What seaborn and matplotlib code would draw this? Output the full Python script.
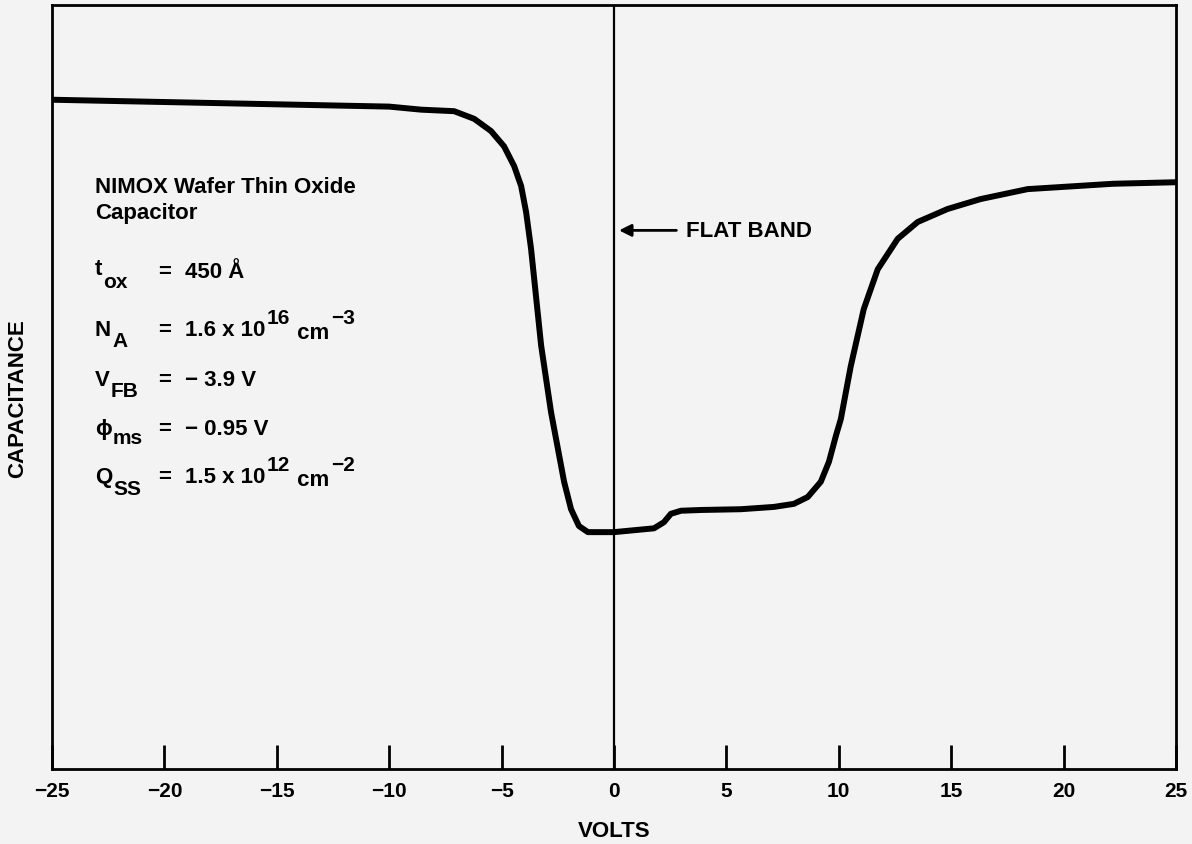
import matplotlib
matplotlib.use("Agg")
import matplotlib.pyplot as plt
import seaborn as sns
import pandas as pd

# Adatok (leolvasva az ábráról)
volts = [-25, -20, -15, -10, -8.58, -7.11, -6.22, -5.47, -4.89, -4.44, -4.13,
         -3.91, -3.69, -3.24, -2.8, -2.22, -1.91, -1.56, -1.16, 0, 1.78,
         2.22, 2.53, 2.98, 3.87, 5.64, 7.11, 8.0, 8.62, 9.2, 9.56, 9.87,
         10.09, 10.53, 11.11, 11.73, 12.62, 13.51, 14.84, 16.31, 18.4, 22.2,
         25]
capacitance = [0.876, 0.873, 0.870, 0.867, 0.863, 0.861, 0.851, 0.835, 0.815,
               0.789, 0.763, 0.729, 0.681, 0.554, 0.467, 0.376, 0.340, 0.318,
               0.310, 0.310, 0.315, 0.323, 0.334, 0.338, 0.339, 0.340, 0.343,
               0.347, 0.356, 0.376, 0.402, 0.436, 0.458, 0.527, 0.602, 0.654,
               0.694, 0.716, 0.733, 0.746, 0.759, 0.766, 0.768]
xticks = [-25, -20, -15, -10, -5, 0, 5, 10, 15, 20, 25]
xticklabels = ["\u221225", "\u221220", "\u221215", "\u221210", "\u22125",
               "0", "5", "10", "15", "20", "25"]
# (szöveg, betűméret, függőleges eltolás pontban)
param_labels = [
    [("t", 16, 2), ("ox", 15, -7)],
    [("N", 16, 0), ("A", 15, -8)],
    [("V", 16, 0), ("FB", 15, -8)],
    [("\u03d5", 16, 0), ("ms", 15, -7)],
    [("Q", 16, 0), ("SS", 15, -8)],
]
param_values = [
    [("450 Å", 16, 0)],
    [("1.6 x 10", 16, 0), ("16", 15, 9), (" cm", 16, -2), ("\u22123", 15, 9)],
    [("\u2212 3.9 V", 16, 0)],
    [("\u2212 0.95 V", 16, 0)],
    [("1.5 x 10", 16, 0), ("12", 15, 9), (" cm", 16, -2), ("\u22122", 15, 9)],
]

sns.set_style("white")
bg = "#f3f3f3"
plt.rcParams.update({
    "font.family": ["Liberation Sans", "DejaVu Sans"],
    "font.weight": "bold",
    "figure.facecolor": bg,
    "axes.facecolor": bg,
    "text.color": "black",
    "axes.labelcolor": "black",
    "xtick.color": "black",
})

df = pd.DataFrame({"Volts": volts, "Capacitance": capacitance})

fig = plt.figure(figsize=(11.92, 8.45), dpi=100)
ax = fig.add_axes([0.0436, 0.0888, 0.9430, 0.9041])

sns.lineplot(data=df, x="Volts", y="Capacitance", ax=ax, color="black",
             linewidth=4.3, sort=False, estimator=None)
for ln in ax.get_lines():
    ln.set_solid_joinstyle("round")
    ln.set_solid_capstyle("butt")

# Flat band vonal
ax.axvline(0, color="black", linewidth=1.6)
ax.annotate("", xy=(0.1, 0.705), xytext=(2.9, 0.705),
            arrowprops=dict(arrowstyle="-|>", color="black", lw=2,
                            mutation_scale=18))
ax.text(3.2, 0.705, "FLAT BAND", fontsize=16, fontweight="bold",
        va="center", ha="left")

ax.set_xlim(-25, 25)
ax.set_ylim(0, 1)
ax.set_xticks(xticks)
ax.set_xticklabels(xticklabels, fontsize=15, fontweight="bold")
ax.set_yticks([])
ax.tick_params(axis="x", bottom=True, direction="in", length=17, width=2,
               pad=9, colors="black")
for s in ax.spines.values():
    s.set_linewidth(2)
    s.set_color("black")

ax.set_xlabel("VOLTS", fontsize=16, fontweight="bold", labelpad=14)
ax.set_ylabel("CAPACITANCE", fontsize=16, fontweight="bold")
ax.yaxis.set_label_coords(-0.031, 0.486)
ax.yaxis.label.set_verticalalignment("center")


def rich_text(x, y, pieces):
    # darabok egymás után, alap vonalhoz igazítva
    txt, size, dy = pieces[0]
    prev = ax.annotate(txt, xy=(x, y), xytext=(0, dy), textcoords="offset points",
                       fontsize=size, fontweight="bold", va="baseline")
    for txt, size, dy in pieces[1:]:
        prev = ax.annotate(txt, xy=(1, y), xycoords=(prev, "data"),
                           xytext=(1, dy), textcoords="offset points",
                           fontsize=size, fontweight="bold", va="baseline")


# Szöveges blokk
ax.text(-23.1, 0.762, "NIMOX Wafer Thin Oxide", fontsize=16,
        fontweight="bold", va="center")
ax.text(-23.1, 0.728, "Capacitor", fontsize=16, fontweight="bold",
        va="center")
row_y = [0.644, 0.568, 0.503, 0.439, 0.375]
for lab, val, y in zip(param_labels, param_values, row_y):
    rich_text(-23.1, y, lab)
    ax.text(-20.3, y, "=", fontsize=16, fontweight="bold", va="baseline")
    rich_text(-19.1, y, val)

plt.savefig("out.png", dpi=100, facecolor=bg)
plt.close()
